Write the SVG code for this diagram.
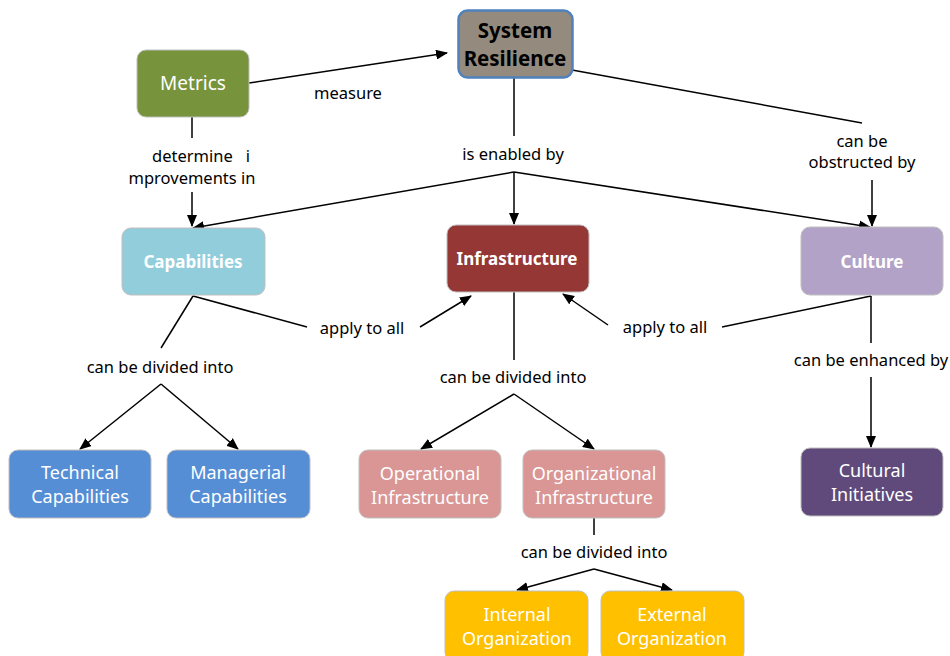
<svg xmlns="http://www.w3.org/2000/svg" width="950" height="656" viewBox="0 0 950 656">
<defs>
<marker id="ah" markerWidth="12" markerHeight="10" refX="11" refY="5" orient="auto" markerUnits="userSpaceOnUse">
<path d="M0,0 L12,5 L0,10 z" fill="#000"/>
</marker>
<style>
.n{stroke:#bfbfbf;stroke-width:1}
.t{font-family:"Noto Sans","Open Sans",sans-serif;font-size:18px;fill:#fff;text-anchor:middle}
.b{font-weight:bold;font-size:17px}
.l{font-family:"Noto Sans","Open Sans",sans-serif;font-size:16.5px;fill:#000;text-anchor:middle;white-space:pre}
.c line,.c polyline{stroke:#000;stroke-width:1.5;fill:none}
.a{marker-end:url(#ah)}
</style>
</defs>
<rect width="950" height="656" fill="#fff"/>
<g class="c" id="connectors">
<line class="a" x1="249" y1="83" x2="447" y2="53"/>
<line x1="192" y1="117" x2="192" y2="138"/>
<line class="a" x1="192" y1="192" x2="192" y2="226"/>
<line x1="514" y1="77" x2="514" y2="136"/>
<line class="a" x1="514" y1="172" x2="193" y2="228"/>
<line class="a" x1="514" y1="172" x2="514" y2="224"/>
<line class="a" x1="514" y1="172" x2="870" y2="227"/>
<line x1="572" y1="70" x2="862" y2="123"/>
<line class="a" x1="872" y1="180" x2="872" y2="226"/>
<line x1="193" y1="296" x2="161" y2="348"/>
<polyline class="a" points="161,384 80,449"/>
<line class="a" x1="161" y1="384" x2="238" y2="449"/>
<line x1="193" y1="296" x2="307" y2="327"/>
<line class="a" x1="420" y1="327" x2="471" y2="296"/>
<line x1="871" y1="296" x2="722" y2="327"/>
<line class="a" x1="608" y1="325" x2="563" y2="294"/>
<line x1="514" y1="292" x2="514" y2="360"/>
<line class="a" x1="514" y1="394" x2="421" y2="449"/>
<line class="a" x1="514" y1="394" x2="594" y2="449"/>
<line x1="871" y1="296" x2="871" y2="343"/>
<line class="a" x1="871" y1="377" x2="871" y2="447"/>
<line x1="594" y1="518" x2="594" y2="535"/>
<line class="a" x1="594" y1="569" x2="517" y2="590"/>
<line class="a" x1="594" y1="569" x2="672" y2="590"/>
<text class="l" x="348" y="99">measure</text>
<text class="l" x="201" y="162" xml:space="preserve">determine   i</text>
<text class="l" x="192" y="184">mprovements in</text>
<text class="l" x="513" y="160">is enabled by</text>
<text class="l" x="862" y="147">can be</text>
<text class="l" x="862" y="168">obstructed by</text>
<text class="l" x="160" y="373">can be divided into</text>
<text class="l" x="362" y="334">apply to all</text>
<text class="l" x="665" y="333">apply to all</text>
<text class="l" x="513" y="383">can be divided into</text>
<text class="l" x="871" y="366">can be enhanced by</text>
<text class="l" x="594" y="558">can be divided into</text>
</g>
<g id="system-resilience">
<rect x="458.5" y="10.5" width="114" height="67" rx="9" fill="#948A7E" stroke="#4F81BD" stroke-width="2.5"/>
<text class="t b" x="515" y="38" style="fill:#000;font-size:20.5px">System</text>
<text class="t b" x="515" y="66" style="fill:#000;font-size:20.5px">Resilience</text>
</g>
<g id="metrics">
<rect class="n" x="137" y="50" width="112" height="67" rx="9" fill="#77933C"/>
<text class="t" x="193" y="90" style="font-size:19px">Metrics</text>
</g>
<g id="capabilities">
<rect class="n" x="122" y="228" width="143" height="67" rx="9" fill="#92CDDC"/>
<text class="t b" x="193" y="268">Capabilities</text>
</g>
<g id="infrastructure">
<rect class="n" x="447" y="225" width="142" height="67" rx="9" fill="#953735"/>
<text class="t b" x="517" y="265">Infrastructure</text>
</g>
<g id="culture">
<rect class="n" x="801" y="227" width="142" height="68" rx="9" fill="#B3A2C7"/>
<text class="t b" x="872" y="268">Culture</text>
</g>
<g id="technical-capabilities">
<rect class="n" x="9" y="450" width="142" height="68" rx="9" fill="#558ED5"/>
<text class="t" x="80" y="479">Technical</text>
<text class="t" x="80" y="503">Capabilities</text>
</g>
<g id="managerial-capabilities">
<rect class="n" x="167" y="450" width="143" height="68" rx="9" fill="#558ED5"/>
<text class="t" x="238" y="479">Managerial</text>
<text class="t" x="238" y="503">Capabilities</text>
</g>
<g id="operational-infrastructure">
<rect class="n" x="359" y="450" width="142" height="68" rx="9" fill="#D99694"/>
<text class="t" x="430" y="480">Operational</text>
<text class="t" x="430" y="504">Infrastructure</text>
</g>
<g id="organizational-infrastructure">
<rect class="n" x="523" y="450" width="142" height="68" rx="9" fill="#D99694"/>
<text class="t" x="594" y="480">Organizational</text>
<text class="t" x="594" y="504">Infrastructure</text>
</g>
<g id="cultural-initiatives">
<rect class="n" x="801" y="448" width="142" height="68" rx="9" fill="#604A7B"/>
<text class="t" x="872" y="477">Cultural</text>
<text class="t" x="872" y="501">Initiatives</text>
</g>
<g id="internal-organization">
<rect class="n" x="445" y="591" width="143" height="70" rx="9" fill="#FFC000"/>
<text class="t" x="517" y="621">Internal</text>
<text class="t" x="517" y="645">Organization</text>
</g>
<g id="external-organization">
<rect class="n" x="601" y="591" width="143" height="70" rx="9" fill="#FFC000"/>
<text class="t" x="672" y="621">External</text>
<text class="t" x="672" y="645">Organization</text>
</g>
</svg>
